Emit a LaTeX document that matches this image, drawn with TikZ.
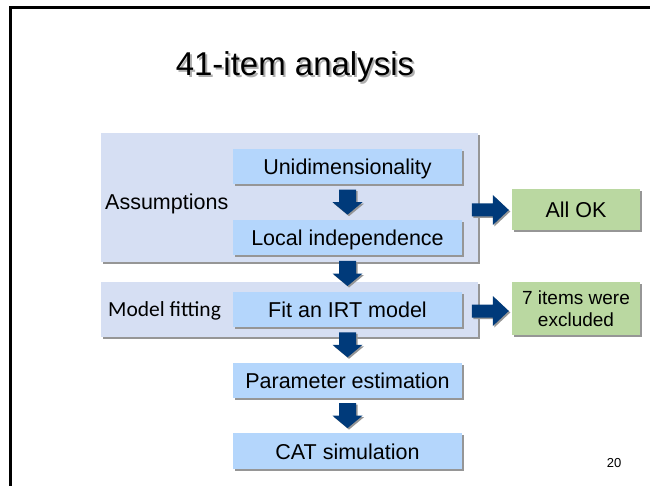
\documentclass[tikz,border=0pt]{standalone}
\usepackage{fontspec}
\setmainfont{Liberation Sans}
\newfontfamily\calibrifont{Carlito}
\usetikzlibrary{shadows,calc}

\definecolor{panelblue}{RGB}{214,223,243}
\definecolor{boxblue}{RGB}{180,214,252}
\definecolor{okgreen}{RGB}{186,216,161}
\definecolor{arrownavy}{RGB}{0,58,122}
\definecolor{shadowgray}{RGB}{150,150,150}
\definecolor{titleshade}{RGB}{175,175,175}

\begin{document}
\begin{tikzpicture}[x=1pt,y=-1pt,
  softshadow/.style={drop shadow={shadow xshift=2pt,shadow yshift=-2pt,fill=shadowgray,opacity=1}},
  panel/.style={fill=panelblue,softshadow,minimum width=377pt,inner sep=0pt},
  stepbox/.style={fill=boxblue,softshadow,minimum width=229pt,minimum height=35.5pt,
    inner sep=0pt,text height=16.6pt,text depth=0pt,font=\fontsize{21.5}{26}\selectfont},
  notebox/.style={fill=okgreen,softshadow,minimum width=128pt,inner sep=0pt,align=center},
  sidelabel/.style={anchor=base west,inner sep=0pt,font=\fontsize{21.5}{26}\selectfont},
  downarr/.pic={
    \fill[shadowgray,shift={(1.5,1.5)}] (-8.5,-12.5) -- (8.5,-12.5) -- (8.5,0) -- (15,0)
      -- (0,12.5) -- (-15,0) -- (-8.5,0) -- cycle;
    \fill[arrownavy] (-8.5,-12.5) -- (8.5,-12.5) -- (8.5,0) -- (15,0)
      -- (0,12.5) -- (-15,0) -- (-8.5,0) -- cycle;
  },
  rightarr/.pic={
    \fill[shadowgray,shift={(1.5,1.5)}] (-18.5,-6.5) -- (2.5,-6.5) -- (2.5,-15) -- (18.5,0)
      -- (2.5,15) -- (2.5,6.5) -- (-18.5,6.5) -- cycle;
    \fill[arrownavy] (-18.5,-6.5) -- (2.5,-6.5) -- (2.5,-15) -- (18.5,0)
      -- (2.5,15) -- (2.5,6.5) -- (-18.5,6.5) -- cycle;
  }
]
\useasboundingbox (0,0) rectangle (650,486);

% slide frame
\draw[line width=3pt] (10,486) -- (10,7.5) -- (650,7.5);

% title, its grey shadow set behind it in the same box
\node[anchor=base,inner sep=0pt,font=\fontsize{33}{40}\selectfont] (title) at (295,76)
  {\makebox[0pt][l]{\hspace{2pt}\raisebox{-2pt}{\textcolor{titleshade}{41-item analysis}}}41-item analysis};

% grouping panels
\node[panel,minimum height=129pt] (assump) at (289.5,197.5) {};
\node[panel,minimum height=55pt] (model) at (289.5,309.5) {};
\node[sidelabel] (asslabel) at (105,210) {Assumptions};
\node[sidelabel,font=\calibrifont\fontsize{21.5}{26}\selectfont] (modlabel) at (108,316) {Model fitting};

% process steps
\node[stepbox] (uni) at (347.5,166.7) {Unidimensionality};
\node[stepbox] (loc) at (347.5,237.7) {Local independence};
\node[stepbox] (fit) at (347.5,309.3) {Fit an IRT model};
\node[stepbox] (param) at (347.5,380.3) {Parameter estimation};
\node[stepbox] (cat) at (347.5,451) {CAT simulation};

% outcomes
\node[notebox,minimum height=41pt,text height=16.6pt,text depth=0pt,
  font=\fontsize{21.5}{26}\selectfont] (ok) at (576,209.5) {All OK};
\node[notebox,minimum height=53pt,font=\fontsize{19}{21.7}\selectfont]
  (excl) at (576,308.5) {7 items were\\excluded};

% flow arrows
\pic (a1) at ($(uni.south)!0.5!(loc.north)$) {downarr};
\pic (a2) at ($(loc.south)!0.5!(fit.north)$) {downarr};
\pic (a3) at ($(fit.south)!0.5!(param.north)$) {downarr};
\pic (a4) at ($(param.south)!0.5!(cat.north)$) {downarr};
\pic (r1) at ($(ok.west)+(-21.5,0.5)$) {rightarr};
\pic (r2) at ($(excl.west)+(-21.5,2.5)$) {rightarr};

% page number
\node[anchor=base,inner sep=0pt,font=\fontsize{13}{15}\selectfont] (pagenum) at (614,467.5) {20};
\end{tikzpicture}
\end{document}
